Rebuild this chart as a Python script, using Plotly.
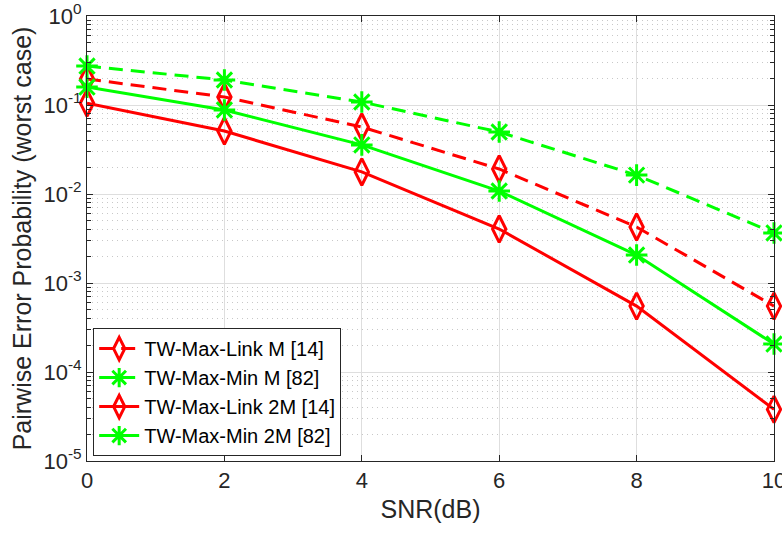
import plotly.graph_objects as go

snr = [0, 2, 4, 6, 8, 10]
link_m = [0.196, 0.123, 0.0566, 0.0191, 0.00426, 0.00055]
min_m = [0.274, 0.191, 0.108, 0.0497, 0.0163, 0.00365]
link_2m = [0.105, 0.051, 0.0177, 0.00404, 0.00055, 0.000038]
min_2m = [0.159, 0.088, 0.0356, 0.0108, 0.00206, 0.000206]

names = ["TW-Max-Link M [14]", "TW-Max-Min M [82]", "TW-Max-Link 2M [14]", "TW-Max-Min 2M [82]"]
x_ticks = [0, 2, 4, 6, 8, 10]
decades = [-5, -4, -3, -2, -1, 0]

RED = "#ff0000"
GREEN = "#00ff00"

fig = go.Figure()
series = [
    (link_m, names[0], RED, "14px,8px", "diamond-tall-open", 19),
    (min_m, names[1], GREEN, "14px,8px", "asterisk-open", 18),
    (link_2m, names[2], RED, "solid", "diamond-tall-open", 19),
    (min_2m, names[3], GREEN, "solid", "asterisk-open", 18),
]
for ys, nm, col, dash, sym, sz in series:
    fig.add_trace(go.Scatter(
        x=snr, y=ys, name=nm, mode="lines+markers",
        line=dict(color=col, width=3, dash=dash),
        marker=dict(symbol=sym, size=sz, color=col, line=dict(color=col, width=3)),
        cliponaxis=False,
    ))

major_vals = [10.0 ** d for d in decades]
major_text = ["10<sup>%d</sup>" % d for d in decades]
minor_vals = [m * 10.0 ** d for d in decades[:-1] for m in range(2, 10)]

axcol = "#262626"
fig.update_layout(
    width=782, height=536,
    margin=dict(l=87, r=8, t=16, b=75),
    paper_bgcolor="white", plot_bgcolor="white",
    font=dict(family="Liberation Sans, Arial, sans-serif", size=22, color=axcol),
    showlegend=True,
    legend=dict(
        x=0.009, y=0.011, xanchor="left", yanchor="bottom",
        bgcolor="white", bordercolor=axcol, borderwidth=1,
        font=dict(size=20, color="#000000"),
        itemwidth=40, tracegroupgap=0,
    ),
    xaxis=dict(
        range=[0, 10], tickvals=x_ticks, automargin=False,
        tickfont=dict(size=22), ticklabeloverflow="allow",
        title=dict(text="SNR(dB)", font=dict(size=25), standoff=8),
        showline=True, linecolor=axcol, linewidth=1, mirror="ticks",
        ticks="inside", ticklen=6, tickcolor=axcol,
        showgrid=True, gridcolor="#dedede", gridwidth=1,
        zeroline=False,
    ),
    yaxis=dict(
        type="log", range=[-5, 0], automargin=False,
        tickmode="array", tickvals=major_vals, ticktext=major_text,
        tickfont=dict(size=22), ticklabeloverflow="allow",
        title=dict(text="Pairwise Error Probability (worst case)", font=dict(size=25), standoff=4),
        showline=True, linecolor=axcol, linewidth=1, mirror="ticks",
        ticks="inside", ticklen=6, tickcolor=axcol,
        showgrid=True, gridcolor="#dedede", gridwidth=1,
        zeroline=False,
        minor=dict(tickmode="array", tickvals=minor_vals, ticks="inside", ticklen=4,
                   tickcolor=axcol, showgrid=True, gridcolor="#c8c8c8",
                   griddash="1px,4px", gridwidth=1),
    ),
)

fig.write_html("out.html")
